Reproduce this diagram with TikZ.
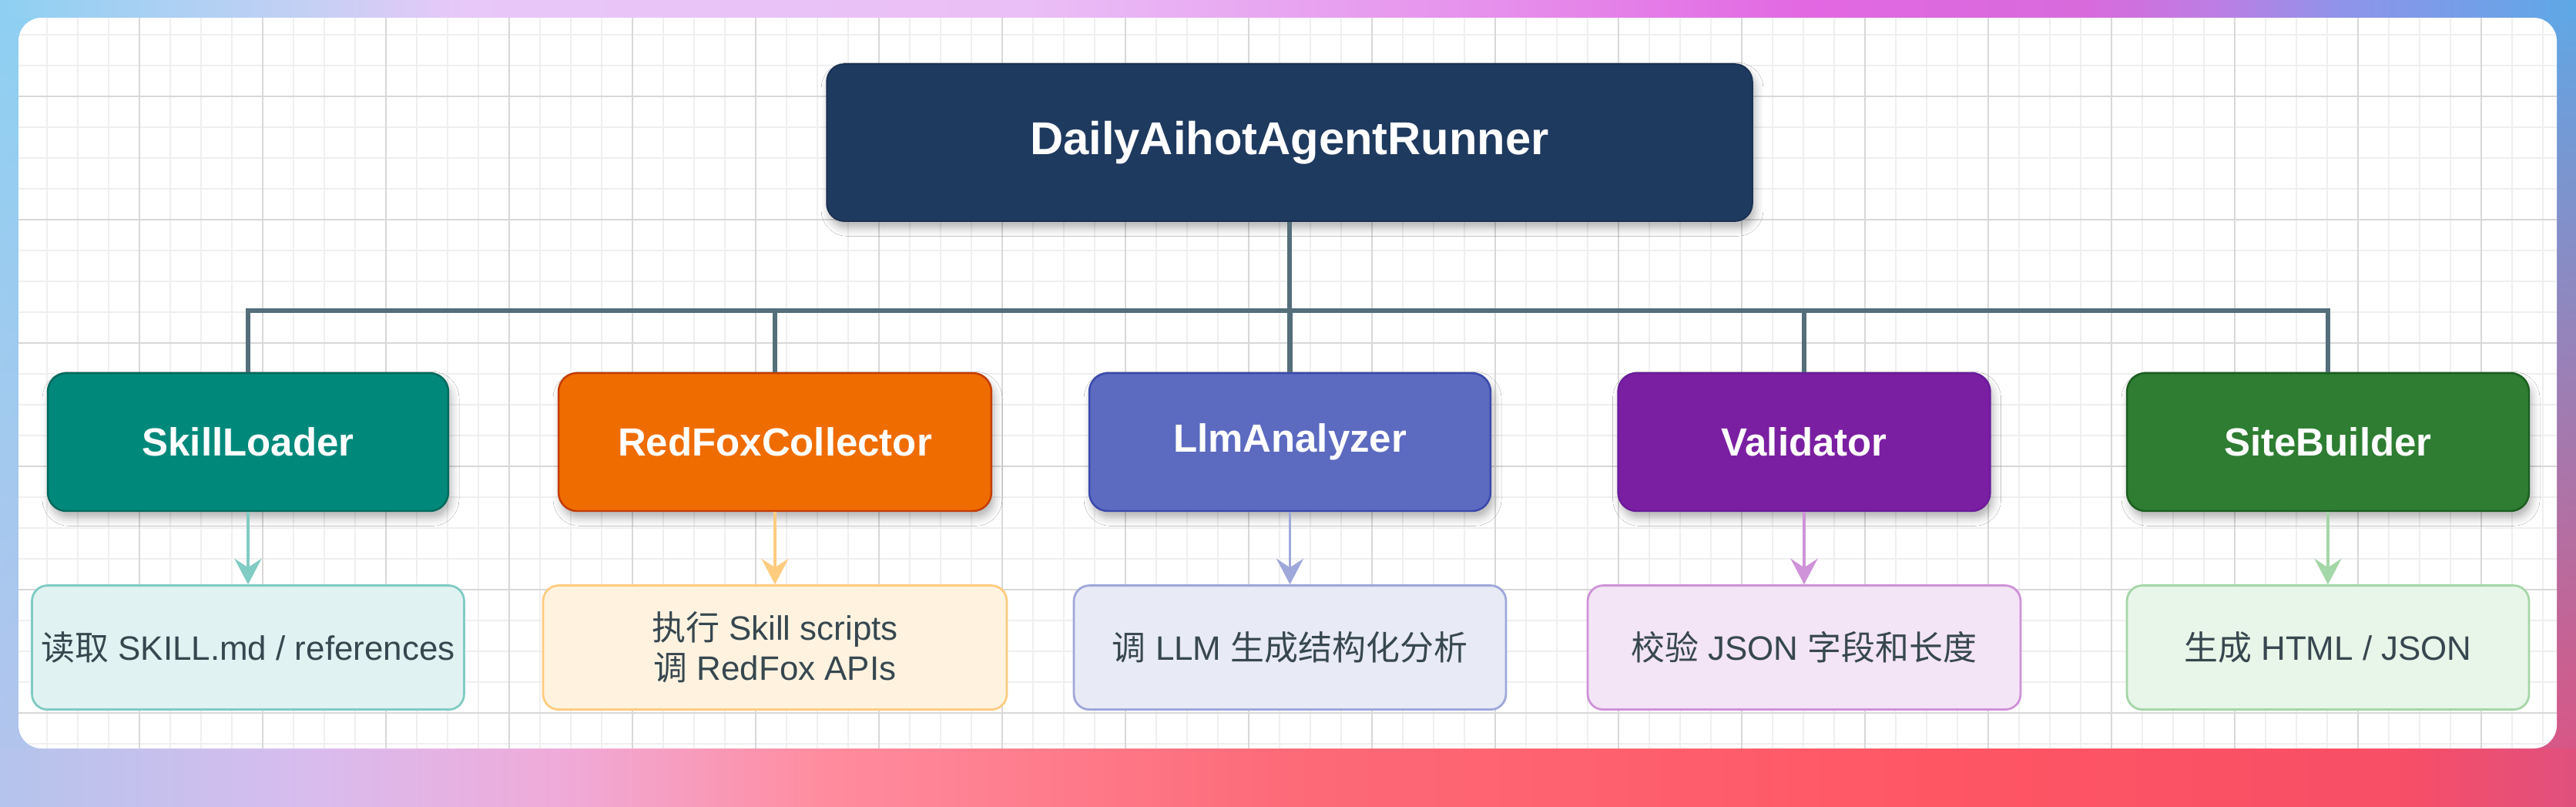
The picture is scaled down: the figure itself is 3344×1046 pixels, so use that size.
\documentclass[tikz,border=0pt]{standalone}
\usepackage{fontspec}
\setmainfont{Liberation Sans}
\newfontfamily\cjk{Noto Sans CJK SC}
\usepackage{xcolor}
\usepackage{tikz}
\usetikzlibrary{positioning, arrows.meta, shadows.blur, shadings}

\definecolor{runnerblue}{HTML}{1F3A5F}
\definecolor{busgray}{HTML}{546E7A}
\definecolor{notetext}{HTML}{37474F}
\definecolor{gridminor}{HTML}{EFEFEF}
\definecolor{gridmajor}{HTML}{D8D8D8}
\definecolor{skillfill}{HTML}{00897B}
\definecolor{skilledge}{HTML}{00695C}
\definecolor{skillnotefill}{HTML}{E0F2F1}
\definecolor{skillnoteedge}{HTML}{80CBC4}
\definecolor{foxfill}{HTML}{EF6C00}
\definecolor{foxedge}{HTML}{C43C00}
\definecolor{foxnotefill}{HTML}{FFF3E0}
\definecolor{foxnoteedge}{HTML}{FFCC80}
\definecolor{llmfill}{HTML}{5C6BC0}
\definecolor{llmedge}{HTML}{3949AB}
\definecolor{llmnotefill}{HTML}{E8EAF6}
\definecolor{llmnoteedge}{HTML}{9FA8DA}
\definecolor{validfill}{HTML}{7B1FA2}
\definecolor{validedge}{HTML}{6A1B9A}
\definecolor{validnotefill}{HTML}{F3E5F5}
\definecolor{validnoteedge}{HTML}{CE93D8}
\definecolor{sitefill}{HTML}{2E7D32}
\definecolor{siteedge}{HTML}{1B5E20}
\definecolor{sitenotefill}{HTML}{E8F5E9}
\definecolor{sitenoteedge}{HTML}{A5D6A7}

\definecolor{tA}{HTML}{8ED0F2}
\definecolor{tB}{HTML}{C4D0F4}
\definecolor{tC}{HTML}{E8C8F8}
\definecolor{tD}{HTML}{EABEF6}
\definecolor{tE}{HTML}{E690EC}
\definecolor{tF}{HTML}{E268E2}
\definecolor{tG}{HTML}{D86ADC}
\definecolor{tH}{HTML}{BC7EE4}
\definecolor{tI}{HTML}{8E94EA}
\definecolor{tJ}{HTML}{5EA8E6}
\definecolor{bA}{HTML}{B4C4EC}
\definecolor{bB}{HTML}{D8BCEE}
\definecolor{bC}{HTML}{F0AAD8}
\definecolor{bD}{HTML}{FF8C9E}
\definecolor{bE}{HTML}{FD6A78}
\definecolor{bF}{HTML}{FF5664}
\definecolor{bG}{HTML}{F84E66}
\definecolor{bH}{HTML}{E0507E}

\pgfdeclarehorizontalshading{topband}{100bp}{color(0bp)=(tA); color(25bp)=(tA); color(31bp)=(tB); color(34bp)=(tC); color(45bp)=(tD); color(54bp)=(tE); color(60bp)=(tF); color(65.5bp)=(tG); color(68bp)=(tH); color(70.5bp)=(tI); color(75bp)=(tJ); color(100bp)=(tJ)}
\pgfdeclarehorizontalshading{bottomband}{100bp}{color(0bp)=(bA); color(25bp)=(bA); color(31bp)=(bB); color(36bp)=(bC); color(41bp)=(bD); color(50bp)=(bE); color(62.5bp)=(bF); color(71.5bp)=(bG); color(75bp)=(bH); color(100bp)=(bH)}

\tikzset{
  runner/.style={rectangle, rounded corners=0.46cm, fill=runnerblue, draw=runnerblue!85!black, line width=1pt,
    minimum width=24.04cm, minimum height=4.08cm, text=white, font=\bfseries\fontsize{34}{40}\selectfont,
    blur shadow={shadow xshift=2pt, shadow yshift=-5pt, shadow blur radius=6pt, shadow opacity=30}},
  module/.style={rectangle, rounded corners=0.48cm, line width=1.4pt, minimum height=3.58cm, text=white,
    font=\bfseries\fontsize{29}{34}\selectfont,
    blur shadow={shadow xshift=2pt, shadow yshift=-5pt, shadow blur radius=6pt, shadow opacity=30}},
  note/.style={rectangle, rounded corners=0.4cm, line width=1.6pt, minimum height=3.22cm, text=notetext,
    align=center, font=\fontsize{25}{29.6}\selectfont},
  bus/.style={draw=busgray, line width=3.8pt},
  flow/.style={line width=1.8pt, -{Stealth[length=19pt, width=20pt, inset=6.5pt]}},
  gridline/.style={draw=gridminor, line width=0.8pt},
  gridbold/.style={draw=gridmajor, line width=1.1pt}
}

\begin{document}
\begin{tikzpicture}[x=0.02cm, y=-0.02cm, node distance=1.88cm]
    \useasboundingbox (0,0) rectangle (3344,1046);
    \shade[upper left=tA, upper right=tJ, lower left=bA, lower right=bH] (0,0) rectangle (3344,1046);
    \shade[shading=topband] (0,0) rectangle (3344,23);
    \shade[shading=bottomband] (0,971) rectangle (3344,1046);
    \fill[white, rounded corners=0.6cm] (24,23) rectangle (3319,971);
    \begin{scope}
        \clip[rounded corners=0.6cm] (24,23) rectangle (3319,971);
        \foreach \x in {61,101,...,3301} \draw[gridline] (\x,23) -- (\x,971);
        \foreach \y in {45,85,...,965} \draw[gridline] (24,\y) -- (3319,\y);
        \foreach \x in {181,341,...,3221} \draw[gridbold] (\x,23) -- (\x,971);
        \foreach \y in {125,285,...,925} \draw[gridbold] (24,\y) -- (3319,\y);
    \end{scope}

    \node[runner] (runner) at (1674,185) {DailyAihotAgentRunner};

    \node[module, fill=skillfill, draw=skilledge, minimum width=10.4cm] (skill) at (322,573.5) {SkillLoader};
    \node[module, fill=foxfill, draw=foxedge, minimum width=11.24cm] (redfox) at (1006,573.5) {RedFoxCollector};
    \node[module, fill=llmfill, draw=llmedge, minimum width=10.42cm] (llm) at (1674.5,573.5) {LlmAnalyzer};
    \node[module, fill=validfill, draw=validedge, minimum width=9.66cm] (valid) at (2342,573.5) {Validator};
    \node[module, fill=sitefill, draw=siteedge, minimum width=10.44cm] (site) at (3022,573.5) {SiteBuilder};

    \node[note, fill=skillnotefill, draw=skillnoteedge, minimum width=11.22cm, below=of skill] (skillnote) {{\cjk 读取} SKILL.md / references};
    \node[note, fill=foxnotefill, draw=foxnoteedge, minimum width=12.04cm, below=of redfox] (redfoxnote) {{\cjk 执行} Skill scripts\\{\cjk 调} RedFox APIs};
    \node[note, fill=llmnotefill, draw=llmnoteedge, minimum width=11.22cm, below=of llm] (llmnote) {{\cjk 调} LLM {\cjk 生成结构化分析}};
    \node[note, fill=validnotefill, draw=validnoteedge, minimum width=11.24cm, below=of valid] (validnote) {{\cjk 校验} JSON {\cjk 字段和长度}};
    \node[note, fill=sitenotefill, draw=sitenoteedge, minimum width=10.44cm, below=of site] (sitenote) {{\cjk 生成} HTML / JSON};

    \coordinate (busline) at (0,403);
    \foreach \n in {skill,redfox,llm,valid,site}
        \draw[bus] (runner.south) -- (runner.south |- busline) -| (\n.north);

    \draw[flow, skillnoteedge] (skill) -- (skillnote);
    \draw[flow, foxnoteedge] (redfox) -- (redfoxnote);
    \draw[flow, llmnoteedge] (llm) -- (llmnote);
    \draw[flow, validnoteedge] (valid) -- (validnote);
    \draw[flow, sitenoteedge] (site) -- (sitenote);
\end{tikzpicture}
\end{document}
